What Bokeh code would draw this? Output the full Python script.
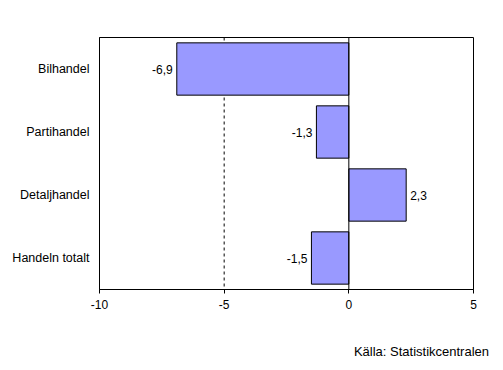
from bokeh.plotting import figure
from bokeh.models import ColumnDataSource, FixedTicker, Span, FactorRange, Range1d, Div
from bokeh.layouts import column
from bokeh.core.properties import value
from bokeh.embed import file_html
from bokeh.resources import INLINE

categories = ["Bilhandel", "Partihandel", "Detaljhandel", "Handeln totalt"]
values = [-6.9, -1.3, 2.3, -1.5]
x_ticks = [-10, -5, 0, 5]
x_tick_labels = ["-10", "-5", "0", "5"]
source_note = "Källa: Statistikcentralen"

labels = [f"{v:.1f}".replace(".", ",") for v in values]
aligns = ["right" if v < 0 else "left" for v in values]
offsets = [-4 if v < 0 else 4 for v in values]

src = ColumnDataSource(dict(cat=categories, val=values, lab=labels, al=aligns, off=offsets))

FONT = "Liberation Sans"

p = figure(
    width=495, height=329,
    frame_width=374, frame_height=252,
    min_border_left=99, min_border_right=22, min_border_top=37, min_border_bottom=40,
    y_range=FactorRange(*reversed(categories), range_padding=0),
    x_range=Range1d(-10, 5),
    output_backend="svg", toolbar_location=None,
)
p.background_fill_color = "white"
p.border_fill_color = "white"
p.outline_line_color = "black"
p.outline_line_width = 1
p.xgrid.visible = False
p.ygrid.visible = False

p.add_layout(Span(location=-5, dimension="height", line_color="black", line_width=1,
                  line_dash="3 3", level="underlay"))

p.hbar(y="cat", right="val", left=0, height=0.83, source=src,
       fill_color="#9999FF", line_color="black", line_width=1)

p.add_layout(Span(location=0, dimension="height", line_color="black", line_width=1))

p.text(x="val", y="cat", text="lab", x_offset="off", text_align="al", text_baseline="middle",
       text_font=value(FONT), text_font_size="12px", text_color="black", source=src)

xa = p.xaxis[0]
xa.ticker = FixedTicker(ticks=x_ticks)
xa.major_label_overrides = {t: l for t, l in zip(x_ticks, x_tick_labels)}
xa.major_tick_out = 4
xa.major_tick_in = 0
xa.minor_tick_out = 0
xa.minor_tick_in = 0
xa.axis_line_color = "black"
xa.major_tick_line_color = "black"
xa.major_label_text_font = FONT
xa.major_label_text_font_size = "12px"
xa.major_label_text_color = "black"
xa.major_label_standoff = 6

ya = p.yaxis[0]
ya.major_tick_out = 0
ya.major_tick_in = 0
ya.minor_tick_out = 0
ya.axis_line_color = "black"
ya.major_label_text_font = FONT
ya.major_label_text_font_size = "12.5px"
ya.major_label_text_color = "black"
ya.major_label_standoff = 10

note = Div(text=source_note, width=489, height=18, margin=(15, 0, 0, 0),
           styles={"text-align": "right", "font-family": FONT, "font-size": "13px",
                   "color": "black", "line-height": "15px"})

layout = column(p, note, spacing=0)

open("out.html", "w").write(file_html(layout, INLINE))
